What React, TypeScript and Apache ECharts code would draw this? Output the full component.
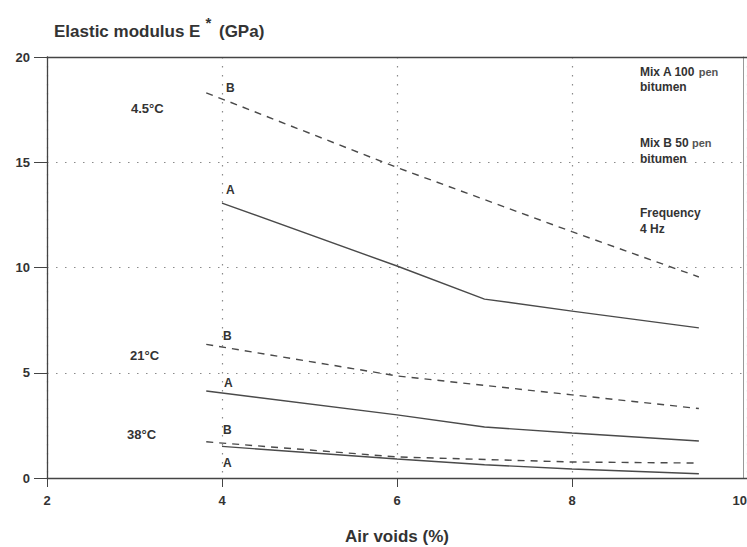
import React, { useEffect, useRef } from "react";
import * as echarts from "echarts";

const xTicks = [2, 4, 6, 8, 10];
const yTicks = [0, 5, 10, 15, 20];

const x45B = [3.82, 6, 8, 9.45];
const y45B = [18.3, 14.75, 11.7, 9.55];
const x45A = [4.0, 6, 7, 8, 9.45];
const y45A = [13.06, 10.07, 8.5, 7.93, 7.13];
const x21B = [3.82, 6, 7, 8, 9.45];
const y21B = [6.35, 4.85, 4.4, 3.95, 3.3];
const x21A = [3.82, 6, 7, 8, 9.45];
const y21A = [4.13, 3.0, 2.42, 2.14, 1.76];
const x38B = [3.82, 6, 8, 9.45];
const y38B = [1.72, 1.0, 0.76, 0.71];
const x38A = [4.0, 6, 7, 8, 9.45];
const y38A = [1.5, 0.9, 0.63, 0.43, 0.2];

const zip = (xs: number[], ys: number[]) => xs.map((x, i) => [x, ys[i]]);

const INK = "#333333";
const FONT = "Liberation Sans, Arial, sans-serif";

export default function App() {
  const ref = useRef<HTMLDivElement>(null);
  useEffect(() => {
    if (!ref.current) return;
    const chart = echarts.init(ref.current, undefined, { renderer: "svg" });
    const line = (name: string, xs: number[], ys: number[], dashed: boolean) => ({
      name,
      type: "line",
      data: zip(xs, ys),
      symbol: "none",
      xAxisIndex: 0,
      yAxisIndex: 0,
      lineStyle: { color: "#4a4a4a", width: 1.4, type: dashed ? [7, 6] : "solid" },
    });
    const t = (text: string, x: number, y: number, size = 12, weight: any = "bold") => ({
      type: "text",
      x,
      y,
      style: {
        text,
        fill: INK,
        font: `${weight} ${size}px ${FONT}`,
        verticalAlign: "middle",
      },
    });
    chart.setOption({
      animation: false,
      backgroundColor: "#ffffff",
      title: {
        text: "{a|Elastic modulus E}{s|*}{a| (GPa)}",
        left: 49,
        top: 6,
        textStyle: {
          rich: {
            a: { fontSize: 17, fontWeight: "bold", fontFamily: FONT, color: INK, padding: [12, 0, 0, 0] },
            s: { fontSize: 15, fontWeight: "bold", fontFamily: FONT, color: INK, padding: [0, 3, 6, 5] },
          },
        },
      },
      grid: { left: 47, right: 0, top: 57, bottom: 69, outerBoundsMode: "none", containLabel: false },
      xAxis: [
        {
          type: "value",
          min: 2,
          max: 10,
          interval: 2,
          name: "Air voids (%)",
          nameLocation: "middle",
          nameGap: 50,
          nameTextStyle: { fontSize: 17, fontWeight: "bold", fontFamily: FONT, color: INK },
          axisLine: { show: true, onZero: false, lineStyle: { color: "#444", width: 1.3 } },
          axisTick: { show: true, length: 9, lineStyle: { color: "#444" } },
          axisLabel: {
            margin: 16,
            fontSize: 13,
            fontWeight: "bold",
            fontFamily: FONT,
            color: INK,
            alignMaxLabel: "right",
          },
          splitLine: { show: true, lineStyle: { color: "#8a8a8a", type: [1.5, 7.5], width: 1.2 } },
        },
        {
          type: "value",
          position: "top",
          min: 2,
          max: 10,
          axisLine: { show: true, onZero: false, lineStyle: { color: "#444", width: 1.3 } },
          axisTick: { show: false },
          axisLabel: { show: false },
          splitLine: { show: false },
        },
      ],
      yAxis: [
        {
          type: "value",
          min: 0,
          max: 20,
          interval: 5,
          axisLine: { show: true, onZero: false, lineStyle: { color: "#444", width: 1.3 } },
          axisTick: { show: true, length: 13, lineStyle: { color: "#444" } },
          axisLabel: { margin: 17, fontSize: 13, fontWeight: "bold", fontFamily: FONT, color: INK },
          splitLine: { show: true, lineStyle: { color: "#8a8a8a", type: [1.5, 7.5], width: 1.2 } },
        },
        {
          type: "value",
          position: "right",
          offset: -4,
          min: 0,
          max: 20,
          axisLine: { show: true, onZero: false, lineStyle: { color: "#999", width: 1 } },
          axisTick: { show: false },
          axisLabel: { show: false },
          splitLine: { show: false },
        },
      ],
      series: [
        line("4.5°C B", x45B, y45B, true),
        line("4.5°C A", x45A, y45A, false),
        line("21°C B", x21B, y21B, true),
        line("21°C A", x21A, y21A, false),
        line("38°C B", x38B, y38B, true),
        line("38°C A", x38A, y38A, false),
      ],
      graphic: [
        t("4.5°C", 131, 108, 13),
        t("21°C", 130, 355, 13),
        t("38°C", 127, 434, 13),
        t("B", 226, 88, 12),
        t("A", 226, 190, 12),
        t("B", 223, 336, 12),
        t("A", 224, 383, 12),
        t("B", 223, 430, 12),
        t("A", 223, 463, 12),
        {
          type: "text",
          x: 640,
          y: 72,
          style: {
            text: "{b|Mix A 100 }{p|pen}",
            verticalAlign: "middle",
            rich: {
              b: { font: `bold 12px ${FONT}`, fill: INK },
              p: { font: `bold 11px ${FONT}`, fill: "#555" },
            },
          },
        },
        t("bitumen", 640, 87, 12),
        {
          type: "text",
          x: 640,
          y: 143,
          style: {
            text: "{b|Mix B 50 }{p|pen}",
            verticalAlign: "middle",
            rich: {
              b: { font: `bold 12px ${FONT}`, fill: INK },
              p: { font: `bold 11px ${FONT}`, fill: "#555" },
            },
          },
        },
        t("bitumen", 640, 159, 12),
        t("Frequency", 640, 213, 12),
        t("4 Hz", 640, 229, 12),
      ],
    });
    return () => chart.dispose();
  }, []);
  return (
    <div
      ref={ref}
      style={{ position: "fixed", left: 0, top: 0, width: 747, height: 547, background: "#fff" }}
    />
  );
}
